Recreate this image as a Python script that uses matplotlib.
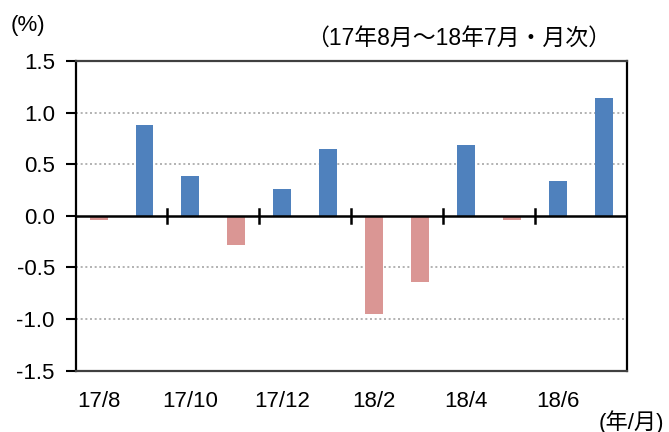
import numpy as np
import matplotlib
matplotlib.use('Agg')
import matplotlib.pyplot as plt

plt.rcParams['font.family'] = ['Liberation Sans', 'Noto Sans CJK JP', 'DejaVu Sans']

# dati: variazione mensile (%) da 17/8 a 18/7
mesi = ['17/8', '17/9', '17/10', '17/11', '17/12', '18/1',
        '18/2', '18/3', '18/4', '18/5', '18/6', '18/7']
valori = [-0.04, 0.88, 0.39, -0.28, 0.26, 0.65,
          -0.95, -0.64, 0.69, -0.04, 0.34, 1.14]
etichette_x = ['17/8', '17/10', '17/12', '18/2', '18/4', '18/6']
yticks = [-1.5, -1.0, -0.5, 0.0, 0.5, 1.0, 1.5]

blu = '#4F81BD'
rosa = '#DA9694'

fig = plt.figure(figsize=(6.69, 4.32), dpi=100)
ax = fig.add_axes([0.113, 0.142, 0.824, 0.717])

x = np.arange(len(mesi))
colori = [blu if v >= 0 else rosa for v in valori]
ax.bar(x, valori, width=0.39, color=colori, zorder=3)

ax.set_xlim(-0.5, len(mesi) - 0.5)
ax.set_ylim(-1.5, 1.5)

# griglia tratteggiata
for y in [-1.0, -0.5, 0.5, 1.0]:
    ax.axhline(y, color='#A6A6A6', lw=1.2, ls=(0, (1.2, 1.6)), zorder=1)
ax.axhline(0, color='black', lw=1.8, zorder=4)

# tacche sull'asse dello zero ogni due mesi
for xt in np.arange(1.5, len(mesi) - 1, 2):
    ax.plot([xt, xt], [-0.07, 0.07], color='black', lw=1.8, zorder=4, clip_on=False)

ax.set_yticks(yticks)
ax.set_yticklabels([f'{v:.1f}' for v in yticks], fontsize=16)
ax.tick_params(axis='y', length=7, width=1.5, pad=8, direction='out')

ax.set_xticks(x[::2])
ax.set_xticklabels(etichette_x, fontsize=16)
ax.tick_params(axis='x', length=0, pad=15)

for s in ['left', 'right']:
    ax.spines[s].set_color('black')
    ax.spines[s].set_linewidth(1.6)
for s in ['top', 'bottom']:
    ax.spines[s].set_color('#404040')
    ax.spines[s].set_linewidth(1.6)

fig.text(0.016, 0.942, '(%)', fontsize=16, ha='left', va='center')
fig.text(0.686, 0.912, '（17年8月～18年7月・月次）', fontsize=16.5, ha='center', va='center')
fig.text(0.993, 0.024, '(年/月)', fontsize=16, ha='right', va='center')

fig.savefig('out.png', dpi=100)
